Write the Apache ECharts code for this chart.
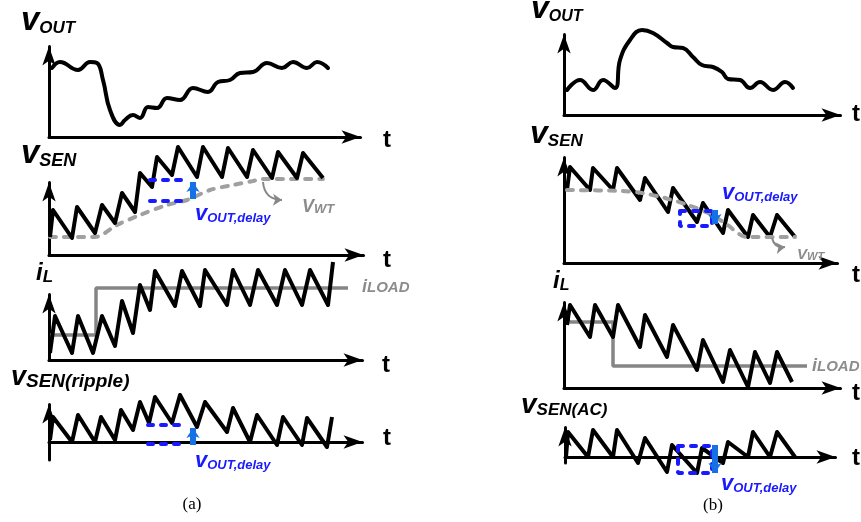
<!DOCTYPE html>
<html><head><meta charset="utf-8">
<script src="https://cdn.jsdelivr.net/npm/echarts@6/dist/echarts.min.js"></script>
<style>html,body{margin:0;padding:0;background:#fff}#c{width:861px;height:522px}</style>
</head><body><div id="c"></div>
<script>
// ---------- DATA (time / amplitude, arbitrary units) ----------
// (a) load step-up
const aVoutT = [3,11,29,41,48,54,61,71,76,84,91,99,108,118,131,144,159,169,181,191,204,218,233,244,258,268,279];
const aVoutV = [69,75,67,75,74,57,27,12,17,22,19,30,29,39,37,49,45,55,57,64,65,74,69,75,69,75,69];

const aSenT = [1,4,23,28,46,53,66,73,86,91,103,108,123,129,148,154,173,179,198,204,223,229,248,254,274];
const aSenV = [18,45,17,48,22,50,32,62,43,82,68,98,80,108,78,108,78,107,78,105,77,103,77,102,77];
const aWtT  = [1,46,68,91,118,138,161,184,204,214,274];
const aWtV  = [18,18,30,40,50,55,65,70,74,76,76];
const aSenBoxT = [101,138];
const aSenBoxV = [75,54];            // upper, lower
const aSenArrow = [144,56,144,73];   // x0,y0,x1,y1
const aWtArrow  = [214,73,233,55];

const aIlT = [1,6,23,29,44,53,66,73,84,91,101,106,126,133,151,156,178,184,201,209,228,236,253,261,279,284];
const aIlV = [7,44,7,44,7,44,14,59,27,75,50,89,54,89,54,90,55,90,55,90,55,90,55,90,55,98];
const aLoadT = [1,47,47,299];
const aLoadV = [25,25,72,72];

const aRipT = [1,4,23,29,46,52,66,72,84,91,100,106,123,131,148,156,178,184,201,208,228,234,253,258,278,283];
const aRipV = [2,25,0,27,0,25,2,32,12,40,19,45,19,47,15,40,10,34,0,27,-3,25,-3,24,-5,25];
const aRipBoxT = [99,138];
const aRipBoxV = [17,-2];
const aRipArrow = [144,-3,144,14];

// (b) load step-down
const bVoutT = [3,16,29,39,51,56,66,78,89,103,109,119,129,138,149,158,164,176,186,196,209,221,229];
const bVoutV = [25,35,25,35,27,55,75,85,82,72,68,67,58,50,48,43,36,35,27,33,25,33,27];

const bSenT = [3,6,26,29,49,53,76,81,104,109,133,139,159,164,184,189,206,213,231];
const bSenV = [73,96,73,95,73,95,63,85,51,75,41,60,30,53,26,48,26,48,26];
const bWtT  = [3,58,78,101,124,144,161,183,231];
const bWtV  = [73,72,70,65,58,50,40,26,26];
const bSenBoxT = [116,148];
const bSenBoxV = [52,37];
const bSenArrow = [151,53,151,39];
const bWtArrow  = [208,25,221,16];

const bIlT = [3,6,26,31,49,54,76,81,103,109,133,139,159,166,184,191,206,213,228];
const bIlV = [63,83,51,83,51,83,41,73,31,63,18,48,6,38,1,36,5,36,6];
const bLoadT = [3,49,49,243];
const bLoadV = [66,66,22,22];

const bAcT = [1,3,23,28,48,52,73,80,102,107,132,137,158,163,183,188,205,212,230];
const bAcV = [0,25,0,27,0,27,-6,19,-15,12,-16,9,-6,15,0,25,0,25,0];
const bAcBoxT = [113,147];
const bAcBoxV = [11,-16];
const bAcArrow = [150,12,150,-16];

// ---------- LAYOUT ----------
const geo = [
  {ox:49,  oy:137, tx:370, ty:37,  ext:0},
  {ox:49,  oy:255, tx:373, ty:173, ext:0},
  {ox:49,  oy:360, tx:372, ty:285, ext:0},
  {ox:49,  oy:442, tx:372, ty:395, ext:18},
  {ox:564, oy:115, tx:850, ty:25,  ext:0},
  {ox:564, oy:263, tx:847, ty:148, ext:0},
  {ox:564, oy:388, tx:850, ty:293, ext:0},
  {ox:565, oy:457, tx:845, ty:418, ext:6}
];
const HL = 19, HW = 10;
const FF = '"Liberation Sans", Arial, sans-serif';
const BLACK = '#000', GRAY_D = '#a0a0a0', GRAY_S = '#858585', GRAY_T = '#8c8c8c', BLUE = '#1a1aff', ABLUE = '#1670e6';

const grids = [], xAxes = [], yAxes = [];
geo.forEach((g, i) => {
  const w = g.tx - HL / 2 - g.ox, h = g.oy - g.ty - HL / 2;
  grids.push({left: g.ox, top: g.ty + HL / 2, width: w, height: h + g.ext});
  const axisLine = {show: true, onZero: true, symbol: ['none', 'arrow'], symbolSize: [HW, HL],
    lineStyle: {color: BLACK, width: 3}};
  const common = {type: 'value', gridIndex: i, axisLine, axisTick: {show: false},
    axisLabel: {show: false}, splitLine: {show: false}};
  xAxes.push(Object.assign({min: 0, max: w}, common));
  yAxes.push(Object.assign({min: -g.ext, max: h}, common));
});

const zip = (t, v) => t.map((x, k) => [x, v[k]]);
function line(gi, data, style, extra) {
  return Object.assign({type: 'line', xAxisIndex: gi, yAxisIndex: gi, data, symbol: 'none',
    clip: false, silent: true, animation: false, lineStyle: style, z: 3}, extra || {});
}
const blackZ = {color: BLACK, width: 4, join: 'round'};
const blackW = {color: BLACK, width: 4, join: 'round', cap: 'round'};
const grayDash = {color: GRAY_D, width: 4, type: [6, 8], cap: 'round'};
const blueDash = {color: BLUE, width: 4, type: [5, 8], cap: 'round'};
const graySolid = {color: GRAY_S, width: 3.5};
function hline(gi, xs, y) { return line(gi, [[xs[0], y], [xs[1], y]], blueDash, {z: 6}); }
function rect(gi, xs, ys) {
  return line(gi, [[xs[0], ys[0]], [xs[1], ys[0]], [xs[1], ys[1]], [xs[0], ys[1]], [xs[0], ys[0]]], blueDash, {z: 6});
}
function arrow(gi, a, color, width, size, curve) {
  return {type: 'lines', coordinateSystem: 'cartesian2d', xAxisIndex: gi, yAxisIndex: gi,
    symbol: ['none', 'arrow'], symbolSize: size, clip: false, silent: true, animation: false,
    lineStyle: {color, width, curveness: curve || 0, opacity: 1},
    data: [{coords: [[a[0], a[1]], [a[2], a[3]]]}], z: 7};
}
const wave = {smooth: 0.45};

const series = [
  line(0, zip(aVoutT, aVoutV), blackW, wave),

  line(1, zip(aWtT, aWtV), grayDash, {smooth: 0.3, z: 2}),
  line(1, zip(aSenT, aSenV), blackZ),
  hline(1, aSenBoxT, aSenBoxV[0]), hline(1, aSenBoxT, aSenBoxV[1]),
  arrow(1, aSenArrow, ABLUE, 6, [15, 10]),
  arrow(1, aWtArrow, '#888', 2, [9, 9], -0.45),

  line(2, zip(aLoadT, aLoadV), graySolid, {z: 2}),
  line(2, zip(aIlT, aIlV), blackZ),

  line(3, zip(aRipT, aRipV), blackZ),
  hline(3, aRipBoxT, aRipBoxV[0]), hline(3, aRipBoxT, aRipBoxV[1]),
  arrow(3, aRipArrow, ABLUE, 6, [15, 10]),

  line(4, zip(bVoutT, bVoutV), blackW, wave),

  line(5, zip(bWtT, bWtV), grayDash, {smooth: 0.3, z: 4}),
  line(5, zip(bSenT, bSenV), blackZ),
  rect(5, bSenBoxT, bSenBoxV),
  arrow(5, bSenArrow, ABLUE, 6, [15, 10]),
  arrow(5, bWtArrow, '#888', 2, [9, 9], -0.45),

  line(6, zip(bLoadT, bLoadV), graySolid, {z: 2}),
  line(6, zip(bIlT, bIlV), blackZ),

  line(7, zip(bAcT, bAcV), blackZ),
  rect(7, bAcBoxT, bAcBoxV),
  arrow(7, bAcArrow, ABLUE, 6, [15, 10])
];

// ---------- TEXT ----------
function rt(x, base, parts, color) {
  const B = parts[0][1];
  const rich = {};
  let text = '';
  parts.forEach((p, k) => {
    const s = p[1];
    rich['p' + k] = {fontSize: s, fontWeight: 'bold', fontStyle: 'italic', fontFamily: FF, fill: color,
      verticalAlign: 'bottom', lineHeight: k === 0 ? B : 0.7 * s + 0.3 * B};
    text += '{p' + k + '|' + p[0] + '}';
  });
  return {type: 'text', x, y: base + 0.15 * B, z: 10, style: {text, rich, verticalAlign: 'bottom', align: 'left'}};
}
function tt(x, y, s) {
  return {type: 'text', x, y, z: 10, style: {text: 't', fontSize: s, fontWeight: 'bold', fontFamily: FF,
    fill: BLACK, align: 'center', verticalAlign: 'middle'}};
}
function cap(x, y, s) {
  return {type: 'text', x, y, z: 10, style: {text: s, fontSize: 17, fontFamily: '"Liberation Serif", "Times New Roman", serif',
    fill: BLACK, align: 'center', verticalAlign: 'middle'}};
}
const graphic = [
  rt(21, 32, [['v', 33], ['OUT', 17]], BLACK),
  rt(21, 165, [['v', 33], ['SEN', 18]], BLACK),
  rt(36, 282, [['i', 24], ['L', 17]], BLACK),
  rt(11, 387, [['v', 27], ['SEN(ripple)', 19]], BLACK),
  rt(531, 20, [['v', 32], ['OUT', 16]], BLACK),
  rt(530, 145, [['v', 32], ['SEN', 17]], BLACK),
  rt(553, 290, [['i', 24], ['L', 16]], BLACK),
  rt(521, 415, [['v', 28], ['SEN(AC)', 17]], BLACK),
  rt(195, 222, [['v', 22], ['OUT,delay', 13]], BLUE),
  rt(195, 469, [['v', 22], ['OUT,delay', 13]], BLUE),
  rt(722, 201, [['v', 22], ['OUT,delay', 13]], BLUE),
  rt(721, 492, [['v', 22], ['OUT,delay', 13]], BLUE),
  rt(362, 293, [['i', 18], ['LOAD', 15]], GRAY_T),
  rt(812, 372, [['i', 18], ['LOAD', 15]], GRAY_T),
  rt(302, 213, [['V', 18], ['WT', 13]], GRAY_T),
  rt(797, 260, [['V', 15], ['WT', 11]], GRAY_T),
  tt(387, 140, 24), tt(387, 260, 24), tt(386, 365, 24), tt(387, 438, 24),
  tt(856, 114, 24), tt(856, 275, 24), tt(856, 393, 24), tt(856, 458, 24),
  cap(192, 505, '(a)'), cap(713, 506, '(b)')
];

const chart = echarts.init(document.getElementById('c'), null, {renderer: 'canvas'});
chart.setOption({animation: false, backgroundColor: '#fff', grid: grids, xAxis: xAxes, yAxis: yAxes, series, graphic});
</script></body></html>
